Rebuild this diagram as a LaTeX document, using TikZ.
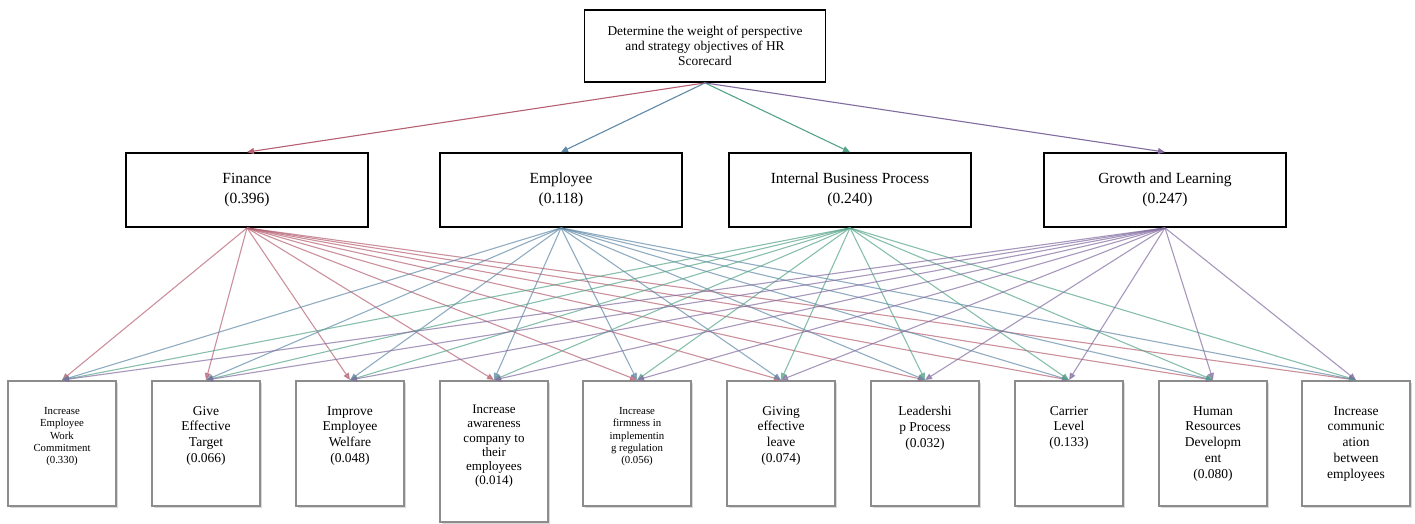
\documentclass[tikz,border=0pt]{standalone}
\usepackage{fontspec}
\setmainfont{Liberation Serif}
\usetikzlibrary{arrows.meta,positioning,shadows}
\definecolor{finred}{RGB}{200,85,110}
\definecolor{empblue}{RGB}{85,140,180}
\definecolor{ibpgreen}{RGB}{70,175,140}
\definecolor{grwpurple}{RGB}{130,100,170}
\begin{document}
\begin{tikzpicture}[x=1pt,y=-1pt,
  goalbox/.style={draw, line width=1.8pt, minimum width=241pt, minimum height=72pt,
    inner sep=0pt, align=center, font=\fontsize{13.4}{15}\selectfont},
  perspbox/.style={draw, line width=1.8pt, minimum width=242pt, minimum height=74pt,
    inner sep=0pt, align=center, font=\fontsize{15.5}{20}\selectfont},
  objbox/.style={draw=black!45, fill=white, line width=2pt, minimum width=108pt,
    minimum height=125pt, anchor=north, inner sep=0pt,
    drop shadow={shadow xshift=1.5pt, shadow yshift=-1.5pt, opacity=0.3}},
  objtext/.style={align=center, anchor=north, inner sep=0pt,
    font=\fontsize{13.5}{15.8}\selectfont},
  smalltext/.style={objtext, font=\fontsize{10.8}{12.4}\selectfont},
  link/.style={-{Triangle[width=6pt,length=7pt]}, line width=1.1pt},
]
  \useasboundingbox (0,0) rectangle (1415,523);

  % goal and perspectives
  \node[goalbox] (goal) at (705,46) {Determine the weight of perspective\\and strategy objectives of HR\\Scorecard};
  \node[perspbox] (fin) at (247,190) {Finance\\(0.396)};
  \node[perspbox] (emp) at (561,190) {Employee\\(0.118)};
  \node[perspbox] (ibp) at (850,190) {Internal Business Process\\(0.240)};
  \node[perspbox] (grw) at (1165,190) {Growth and Learning\\(0.247)};

  % strategy objectives
  \node[objbox] (o1) at (62,380) {};
  \node[objbox] (o2) at (206,380) {};
  \node[objbox] (o3) at (350,380) {};
  \node[objbox, minimum height=141pt] (o4) at (494,380) {};
  \node[objbox] (o5) at (637,380) {};
  \node[objbox] (o6) at (781,380) {};
  \node[objbox] (o7) at (925,380) {};
  \node[objbox] (o8) at (1069,380) {};
  \node[objbox] (o9) at (1213,380) {};
  \node[objbox] (o10) at (1356,380) {};

  \node[smalltext] (t1) at (62,407) {Increase\\Employee\\Work\\Commitment\\(0.330)};
  \node[objtext] (t2) at (206,406) {Give\\Effective\\Target\\(0.066)};
  \node[objtext] (t3) at (350,406) {Improve\\Employee\\Welfare\\(0.048)};
  \node[objtext, font=\fontsize{13}{14.2}\selectfont] (t4) at (494,405) {Increase\\awareness\\company to\\their\\employees\\(0.014)};
  \node[smalltext] (t5) at (637,407) {Increase\\firmness in\\implementin\\g regulation\\(0.056)};
  \node[objtext] (t6) at (781,406) {Giving\\effective\\leave\\(0.074)};
  \node[objtext] (t7) at (925,406) {Leadershi\\p Process\\(0.032)};
  \node[objtext] (t8) at (1069,406) {Carrier\\Level\\(0.133)};
  \node[objtext] (t9) at (1213,406) {Human\\Resources\\Developm\\ent\\(0.080)};
  \node[objtext] (t10) at (1356,406) {Increase\\communic\\ation\\between\\employees};

  % connectors
  \foreach \p/\c in {fin/finred,emp/empblue,ibp/ibpgreen,grw/grwpurple}
    \draw[link, \c!75!gray] (goal.south) -- (\p.north);
  \foreach \p/\c in {fin/finred,emp/empblue,ibp/ibpgreen,grw/grwpurple}
    \foreach \i in {1,...,10}
      \draw[link, \c!75!gray, opacity=0.7] (\p.south) -- (o\i.north);
\end{tikzpicture}
\end{document}
